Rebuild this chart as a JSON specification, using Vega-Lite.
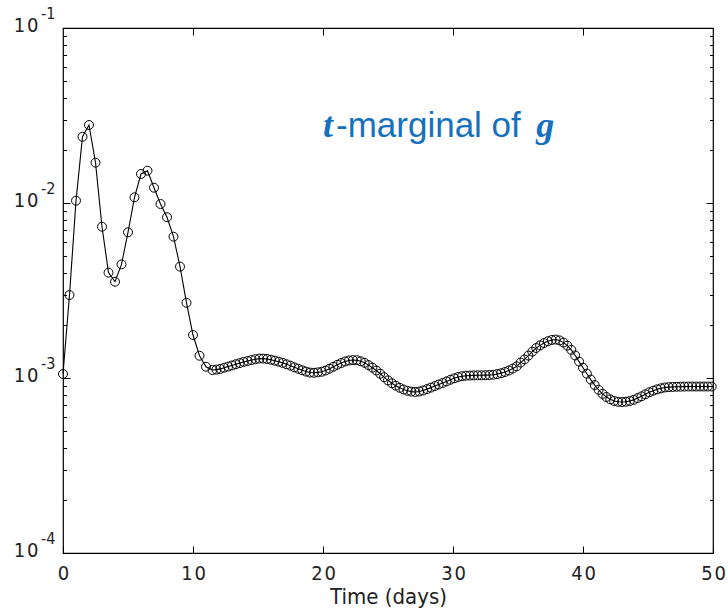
{
  "$schema": "https://vega.github.io/schema/vega-lite/v6.json",
  "width": 650,
  "height": 525,
  "autosize": {"type": "none"},
  "padding": {"left": 63, "top": 28, "right": 15, "bottom": 58},
  "background": "white",
  "config": {
    "view": {"stroke": "#000", "strokeWidth": 1.2},
    "axis": {
      "domain": false,
      "grid": false,
      "labelFont": "DejaVu Sans Condensed, Liberation Sans Narrow, sans-serif",
      "titleFont": "DejaVu Sans Condensed, Liberation Sans Narrow, sans-serif",
      "labelColor": "#222",
      "titleColor": "#222",
      "tickColor": "#000",
      "tickWidth": 1,
      "labelFlush": false
    }
  },
  "datasets": {
    "g": [
      {"t": 0, "g": 0.001054}, {"t": 0.5, "g": 0.00298}, {"t": 1.0, "g": 0.01031}, {"t": 1.5, "g": 0.0239},
      {"t": 2.0, "g": 0.0279}, {"t": 2.5, "g": 0.017}, {"t": 3.0, "g": 0.00732}, {"t": 3.5, "g": 0.0040},
      {"t": 4.0, "g": 0.00355}, {"t": 4.5, "g": 0.00446}, {"t": 5.0, "g": 0.0068}, {"t": 5.5, "g": 0.01078},
      {"t": 6.0, "g": 0.01465}, {"t": 6.5, "g": 0.0153}, {"t": 7.0, "g": 0.01223}, {"t": 7.5, "g": 0.00987},
      {"t": 8.0, "g": 0.00829}, {"t": 8.5, "g": 0.00642}, {"t": 9.0, "g": 0.00433}, {"t": 9.5, "g": 0.00269},
      {"t": 10.0, "g": 0.00176}, {"t": 10.5, "g": 0.00134}, {"t": 11.0, "g": 0.00116},
      {"t": 11.5, "g": 0.001111}, {"t": 11.8, "g": 0.001117}, {"t": 12.1, "g": 0.001127}, {"t": 12.4, "g": 0.001145},
      {"t": 12.7, "g": 0.001162}, {"t": 13.0, "g": 0.00118}, {"t": 13.3, "g": 0.001199}, {"t": 13.6, "g": 0.001217},
      {"t": 13.9, "g": 0.001236}, {"t": 14.2, "g": 0.001251}, {"t": 14.5, "g": 0.001266}, {"t": 14.8, "g": 0.001281},
      {"t": 15.1, "g": 0.001291}, {"t": 15.4, "g": 0.001291}, {"t": 15.7, "g": 0.001284}, {"t": 16.0, "g": 0.001272},
      {"t": 16.3, "g": 0.001256}, {"t": 16.6, "g": 0.001239}, {"t": 16.9, "g": 0.00122}, {"t": 17.2, "g": 0.001198},
      {"t": 17.5, "g": 0.001176}, {"t": 17.8, "g": 0.001151}, {"t": 18.1, "g": 0.001129}, {"t": 18.4, "g": 0.001107},
      {"t": 18.7, "g": 0.001088}, {"t": 19.0, "g": 0.001074}, {"t": 19.3, "g": 0.001071}, {"t": 19.6, "g": 0.001077},
      {"t": 19.9, "g": 0.001086}, {"t": 20.2, "g": 0.001104}, {"t": 20.5, "g": 0.00113}, {"t": 20.8, "g": 0.001159},
      {"t": 21.1, "g": 0.00119}, {"t": 21.4, "g": 0.001218}, {"t": 21.7, "g": 0.001243}, {"t": 22.0, "g": 0.001259},
      {"t": 22.3, "g": 0.001266}, {"t": 22.6, "g": 0.001264}, {"t": 22.9, "g": 0.001246}, {"t": 23.2, "g": 0.001221},
      {"t": 23.5, "g": 0.001185}, {"t": 23.8, "g": 0.001145}, {"t": 24.1, "g": 0.001104}, {"t": 24.4, "g": 0.001058},
      {"t": 24.7, "g": 0.001011}, {"t": 25.0, "g": 0.000969}, {"t": 25.3, "g": 0.000933}, {"t": 25.6, "g": 0.000904},
      {"t": 25.9, "g": 0.000879}, {"t": 26.2, "g": 0.00086}, {"t": 26.5, "g": 0.000845}, {"t": 26.8, "g": 0.000836},
      {"t": 27.1, "g": 0.000832}, {"t": 27.4, "g": 0.000837}, {"t": 27.7, "g": 0.000849}, {"t": 28.0, "g": 0.000864},
      {"t": 28.3, "g": 0.000881}, {"t": 28.6, "g": 0.000899}, {"t": 28.9, "g": 0.000918}, {"t": 29.2, "g": 0.000936},
      {"t": 29.5, "g": 0.000956}, {"t": 29.8, "g": 0.000977}, {"t": 30.1, "g": 0.000996}, {"t": 30.4, "g": 0.001013},
      {"t": 30.7, "g": 0.001024}, {"t": 31.0, "g": 0.001031}, {"t": 31.3, "g": 0.001033}, {"t": 31.6, "g": 0.001035},
      {"t": 31.9, "g": 0.001036}, {"t": 32.2, "g": 0.001036}, {"t": 32.5, "g": 0.001038}, {"t": 32.8, "g": 0.00104},
      {"t": 33.1, "g": 0.001044}, {"t": 33.4, "g": 0.001053}, {"t": 33.7, "g": 0.001065}, {"t": 34.0, "g": 0.001082},
      {"t": 34.3, "g": 0.001104}, {"t": 34.6, "g": 0.001132}, {"t": 34.9, "g": 0.001166}, {"t": 35.2, "g": 0.001225},
      {"t": 35.5, "g": 0.001277}, {"t": 35.8, "g": 0.001343}, {"t": 36.1, "g": 0.001415}, {"t": 36.4, "g": 0.001484},
      {"t": 36.7, "g": 0.001536}, {"t": 37.0, "g": 0.001585}, {"t": 37.3, "g": 0.001623}, {"t": 37.6, "g": 0.001649},
      {"t": 37.9, "g": 0.001658}, {"t": 38.2, "g": 0.00164}, {"t": 38.5, "g": 0.001593}, {"t": 38.8, "g": 0.00153},
      {"t": 39.1, "g": 0.001449}, {"t": 39.4, "g": 0.001345}, {"t": 39.7, "g": 0.001241}, {"t": 40.0, "g": 0.001144},
      {"t": 40.3, "g": 0.001058}, {"t": 40.6, "g": 0.000979}, {"t": 40.9, "g": 0.000911}, {"t": 41.2, "g": 0.000856},
      {"t": 41.5, "g": 0.000812}, {"t": 41.8, "g": 0.000779}, {"t": 42.1, "g": 0.000755}, {"t": 42.4, "g": 0.000739},
      {"t": 42.7, "g": 0.000731}, {"t": 43.0, "g": 0.000729}, {"t": 43.3, "g": 0.000732}, {"t": 43.6, "g": 0.000739},
      {"t": 43.9, "g": 0.00075}, {"t": 44.2, "g": 0.000768}, {"t": 44.5, "g": 0.000786}, {"t": 44.8, "g": 0.000807},
      {"t": 45.1, "g": 0.000829}, {"t": 45.4, "g": 0.000846}, {"t": 45.7, "g": 0.000861}, {"t": 46.0, "g": 0.000873},
      {"t": 46.3, "g": 0.000883}, {"t": 46.6, "g": 0.000887}, {"t": 46.9, "g": 0.000889}, {"t": 47.2, "g": 0.000891},
      {"t": 47.5, "g": 0.000892}, {"t": 47.8, "g": 0.000893}, {"t": 48.1, "g": 0.000894}, {"t": 48.4, "g": 0.000894},
      {"t": 48.7, "g": 0.000894}, {"t": 49.0, "g": 0.000894}, {"t": 49.3, "g": 0.000894}, {"t": 49.6, "g": 0.000894},
      {"t": 49.9, "g": 0.000894}
    ],
    "exps": [
      {"v": 0.1, "e": "-1"}, {"v": 0.01, "e": "-2"}, {"v": 0.001, "e": "-3"}, {"v": 0.0001, "e": "-4"}
    ],
    "label": [
      {"part": "t", "tx": 20.0, "ty": 0.0238},
      {"part": "-marginal of", "tx": 21.0, "ty": 0.0238},
      {"part": "g", "tx": 36.4, "ty": 0.0238}
    ]
  },
  "layer": [
    {
      "data": {"name": "g"},
      "mark": {"type": "line", "color": "#000", "strokeWidth": 1.1},
      "encoding": {
        "x": {
          "field": "t", "type": "quantitative",
          "scale": {"domain": [0, 50], "nice": false, "zero": false},
          "axis": {
            "orient": "bottom", "values": [0, 10, 20, 30, 40, 50],
            "labelExpr": "datum.value == 0 ? '0' : (datum.value / 10) + '\u200a0'",
            "labelFontSize": 20, "labelPadding": 17, "tickSize": -7,
            "title": "Time (days)", "titleFontSize": 22, "titleFontWeight": "normal", "titlePadding": 3
          }
        },
        "y": {
          "field": "g", "type": "quantitative",
          "scale": {"type": "log", "domain": [0.0001, 0.1], "nice": false},
          "axis": {
            "orient": "left",
            "values": [0.0001, 0.0002, 0.0003, 0.0004, 0.0005, 0.0006, 0.0007, 0.0008, 0.0009,
                       0.001, 0.002, 0.003, 0.004, 0.005, 0.006, 0.007, 0.008, 0.009,
                       0.01, 0.02, 0.03, 0.04, 0.05, 0.06, 0.07, 0.08, 0.09, 0.1],
            "labelExpr": "abs(log(datum.value)/LN10 - round(log(datum.value)/LN10)) < 0.001 ? '1\u200a0' : ''",
            "labelFontSize": 20, "labelPadding": 32, "labelBaseline": "alphabetic", "labelOffset": 3,
            "labelAlign": "right",
            "tickSize": {"condition": {"test": "abs(log(datum.value)/LN10 - round(log(datum.value)/LN10)) < 0.001", "value": -7}, "value": -3.5},
            "title": null
          }
        }
      }
    },
    {
      "data": {"name": "g"},
      "mark": {"type": "point", "shape": "circle", "filled": false, "color": "#000", "size": 80, "strokeWidth": 1, "opacity": 1},
      "encoding": {
        "x": {
          "field": "t", "type": "quantitative",
          "axis": {"orient": "top", "values": [10, 20, 30, 40], "labels": false, "tickSize": -7, "title": null}
        },
        "y": {
          "field": "g", "type": "quantitative",
          "axis": {
            "orient": "right",
            "values": [0.0001, 0.0002, 0.0003, 0.0004, 0.0005, 0.0006, 0.0007, 0.0008, 0.0009,
                       0.001, 0.002, 0.003, 0.004, 0.005, 0.006, 0.007, 0.008, 0.009,
                       0.01, 0.02, 0.03, 0.04, 0.05, 0.06, 0.07, 0.08, 0.09, 0.1],
            "labels": false,
            "tickSize": {"condition": {"test": "abs(log(datum.value)/LN10 - round(log(datum.value)/LN10)) < 0.001", "value": -7}, "value": -3.5},
            "title": null
          }
        }
      }
    },
    {
      "data": {"name": "exps"},
      "mark": {"type": "text", "align": "left", "baseline": "alphabetic", "dx": -22, "dy": -9, "fontSize": 16,
               "font": "DejaVu Sans Condensed, Liberation Sans Narrow, sans-serif", "color": "#222"},
      "encoding": {
        "x": {"datum": 0, "type": "quantitative", "axis": null},
        "y": {"field": "v", "type": "quantitative", "axis": null},
        "text": {"field": "e"}
      }
    },
    {
      "data": {"name": "label"},
      "transform": [{"filter": "datum.part != '-marginal of'"}],
      "mark": {"type": "text", "align": "left", "baseline": "alphabetic", "fontSize": 36,
               "font": "Liberation Serif, serif", "fontStyle": "italic", "fontWeight": "bold", "color": "#1570BE"},
      "encoding": {
        "x": {"field": "tx", "type": "quantitative", "axis": null},
        "y": {"field": "ty", "type": "quantitative", "axis": null},
        "text": {"field": "part"}
      }
    },
    {
      "data": {"name": "label"},
      "transform": [{"filter": "datum.part == '-marginal of'"}],
      "mark": {"type": "text", "align": "left", "baseline": "alphabetic", "fontSize": 35,
               "font": "Liberation Sans, Arial, sans-serif", "color": "#1570BE"},
      "encoding": {
        "x": {"field": "tx", "type": "quantitative", "axis": null},
        "y": {"field": "ty", "type": "quantitative", "axis": null},
        "text": {"field": "part"}
      }
    }
  ],
  "resolve": {"axis": {"x": "independent", "y": "independent"}}
}
